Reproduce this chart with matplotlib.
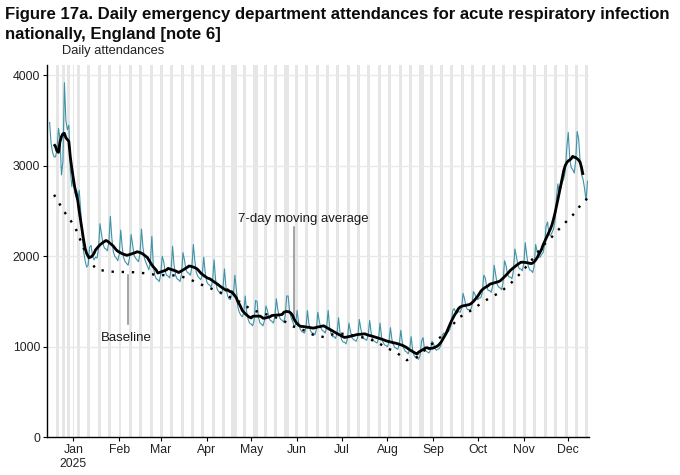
import matplotlib
matplotlib.use("Agg")
import matplotlib.pyplot as plt
import pandas as pd

plt.rcParams['font.family'] = ['Liberation Sans', 'DejaVu Sans']

# ---------------- data ----------------
start_date = "2024-12-16"   # first day of daily series (Monday)

daily_attendances = [
    3480, 3250, 3150, 3100, 3100, 3180, 3415,
    3300, 2900, 3050, 3920, 3500, 3400, 3450,
    2950, 2770, 2900, 2700, 2650, 2620, 2730,
    2500, 2220, 2050, 1950, 1880, 1900, 2100,
    2120, 2000, 1960, 1990, 1980, 2080, 2360,
    2250, 2140, 2090, 2080, 2060, 2160, 2440,
    2200, 2050, 2000, 1980, 1950, 2020, 2290,
    2100, 1980, 1940, 1920, 1900, 1990, 2240,
    2130, 2010, 1980, 1960, 1940, 2030, 2300,
    2100, 1980, 1930, 1890, 1850, 1930, 2220,
    1900, 1790, 1750, 1740, 1720, 1800, 2000,
    1940, 1830, 1790, 1780, 1760, 1850, 2110,
    1900, 1790, 1750, 1740, 1720, 1800, 2040,
    1960, 1850, 1820, 1810, 1790, 1880, 2130,
    1950, 1820, 1780, 1760, 1740, 1790, 1990,
    1820, 1720, 1690, 1680, 1660, 1730, 1960,
    1740, 1640, 1610, 1600, 1580, 1650, 1860,
    1660, 1570, 1530, 1520, 1620, 1560, 1790,
    1640, 1440, 1380, 1350, 1330, 1370, 1560,
    1380, 1300, 1260, 1250, 1230, 1290, 1510,
    1500, 1320, 1260, 1250, 1230, 1290, 1450,
    1400, 1320, 1290, 1280, 1260, 1330, 1530,
    1410, 1330, 1300, 1290, 1270, 1340, 1560,
    1560, 1380, 1320, 1280, 1230, 1240, 1400,
    1270, 1200, 1170, 1160, 1150, 1210, 1400,
    1250, 1180, 1150, 1150, 1130, 1190, 1380,
    1280, 1210, 1180, 1170, 1150, 1220, 1400,
    1210, 1140, 1110, 1110, 1090, 1150, 1320,
    1150, 1080, 1050, 1050, 1030, 1090, 1260,
    1170, 1100, 1080, 1070, 1060, 1110, 1300,
    1200, 1120, 1090, 1080, 1070, 1130, 1290,
    1150, 1080, 1060, 1050, 1040, 1090, 1260,
    1110, 1050, 1020, 1010, 1000, 1050, 1210,
    1080, 1020, 990, 980, 970, 1030, 1180,
    1050, 980, 950, 940, 920, 970, 1110,
    960, 900, 880, 870, 860, 900, 1060,
    1100, 970, 950, 940, 930, 960, 1060,
    1040, 980, 960, 970, 980, 1010, 1130,
    1150, 1120, 1140, 1170, 1190, 1240, 1400,
    1420, 1380, 1370, 1390, 1380, 1420, 1590,
    1530, 1440, 1410, 1410, 1400, 1450, 1610,
    1580, 1530, 1520, 1540, 1540, 1600, 1790,
    1760, 1660, 1620, 1620, 1600, 1670, 1900,
    1800, 1690, 1660, 1650, 1630, 1710, 1950,
    1900, 1800, 1770, 1770, 1750, 1840, 2080,
    2000, 1900, 1860, 1860, 1840, 1920, 2150,
    2010, 1890, 1850, 1840, 1820, 1890, 2130,
    2050, 1990, 1990, 2020, 2040, 2120, 2330,
    2380, 2240, 2230, 2260, 2300, 2380, 2640,
    2800, 2700, 2760, 2820, 2860, 2940, 3200,
    3370, 3080, 2980, 2960, 2920, 3050, 3380,
    3300, 3050, 2900, 2850, 2750, 2620, 2830,
]

baseline_dates = [
    "2024-12-19", "2024-12-26", "2025-01-02", "2025-01-09", "2025-01-16",
    "2025-01-23", "2025-01-30", "2025-02-06", "2025-02-13", "2025-02-20",
    "2025-02-27", "2025-03-06", "2025-03-13", "2025-03-20", "2025-03-27",
    "2025-04-03", "2025-04-10", "2025-04-17", "2025-04-24", "2025-05-01",
    "2025-05-08", "2025-05-15", "2025-05-22", "2025-05-29", "2025-06-05",
    "2025-06-12", "2025-06-19", "2025-06-26", "2025-07-03", "2025-07-10",
    "2025-07-17", "2025-07-24", "2025-07-31", "2025-08-07", "2025-08-14",
    "2025-08-21", "2025-08-28", "2025-09-04", "2025-09-11", "2025-09-18",
    "2025-09-25", "2025-10-02", "2025-10-09", "2025-10-16", "2025-10-23",
    "2025-10-30", "2025-11-06", "2025-11-13", "2025-11-20", "2025-11-27",
    "2025-12-04", "2025-12-11", "2025-12-14",
]
baseline_values = [
    2680, 2490, 2330, 2050, 1860,
    1835, 1826, 1826, 1822, 1808,
    1792, 1790, 1786, 1750, 1695,
    1650, 1600, 1545, 1490, 1410,
    1372, 1340, 1295, 1225, 1185,
    1130, 1106, 1140, 1143, 1120,
    1095, 1060, 990, 935, 850,
    884, 990, 1080, 1180, 1320,
    1385, 1465, 1540, 1600, 1697,
    1815, 1950, 2100, 2215, 2340,
    2454, 2600, 2640,
]

bank_holidays = ["2024-12-25", "2024-12-26", "2025-01-01", "2025-04-18",
                 "2025-04-21", "2025-05-05", "2025-05-26", "2025-08-25"]

month_ticks = ["2025-01-01", "2025-02-01", "2025-03-01", "2025-04-01",
               "2025-05-01", "2025-06-01", "2025-07-01", "2025-08-01",
               "2025-09-01", "2025-10-01", "2025-11-01", "2025-12-01"]
month_labels = ["Jan\n2025", "Feb", "Mar", "Apr", "May", "Jun", "Jul",
                "Aug", "Sep", "Oct", "Nov", "Dec"]
y_ticks = [0, 1000, 2000, 3000, 4000]

title = ("Figure 17a. Daily emergency department attendances for acute respiratory infection\n"
         "nationally, England [note 6]")

# ---------------- derived ----------------
dates = pd.date_range(start_date, periods=len(daily_attendances), freq="D")
series = pd.Series(daily_attendances, index=dates, dtype=float)
ma7 = series.rolling(7, center=True).mean()
bl_dates = pd.to_datetime(baseline_dates)
bh = pd.to_datetime(bank_holidays)
shade_days = [d for d in dates if d.weekday() >= 5 or d in bh]

ymax = max(daily_attendances) * 1.05

# ---------------- figure ----------------
fig = plt.figure(figsize=(6.8, 4.75), dpi=100)
ax = fig.add_axes([47/680, 1 - 437/475, (589 - 47)/680, (437 - 65)/475])

ax.bar(shade_days, [ymax] * len(shade_days), width=1.0, bottom=0,
       color="#e6e6e6", edgecolor="none", zorder=0)

for yv in y_ticks[1:]:
    ax.axhline(yv, color="#e9e9e9", lw=1.0, zorder=0.5)

ax.plot(dates, series.values, color="#3f93a8", lw=0.8, zorder=2)
ax.plot(dates, ma7.values, color="black", lw=2.0, zorder=3,
        solid_capstyle="butt")
ax.plot(bl_dates, baseline_values, color="black", lw=1.7,
        linestyle=(0, (1, 3.3)), zorder=3)

# annotations
ann_ma_x = pd.Timestamp("2025-05-30")
ax.plot([ann_ma_x, ann_ma_x], [1340, 2320], color="#8c8c8c", lw=1.1, zorder=1.5)
ax.text(pd.Timestamp("2025-06-05"), 2410, "7-day moving average",
        ha="center", va="center", fontsize=9.5, color="#1a1a1a")
ann_bl_x = pd.Timestamp("2025-02-07")
ax.plot([ann_bl_x, ann_bl_x], [1790, 1250], color="#8c8c8c", lw=1.1, zorder=1.5)
ax.text(pd.Timestamp("2025-02-06"), 1090, "Baseline",
        ha="center", va="center", fontsize=9.5, color="#1a1a1a")

ax.set_xlim(pd.Timestamp("2024-12-14 06:00"), pd.Timestamp("2025-12-15"))
ax.set_ylim(0, ymax)
ax.set_xticks(pd.to_datetime(month_ticks))
ax.set_xticklabels(month_labels)
ax.set_yticks(y_ticks)
ax.set_yticklabels([str(v) for v in y_ticks])

for side in ["top", "right"]:
    ax.spines[side].set_visible(False)
for side in ["left", "bottom"]:
    ax.spines[side].set_color("black")
    ax.spines[side].set_linewidth(1.0)
ax.tick_params(axis="both", labelsize=8.8, length=3, width=0.8,
               colors="black", labelcolor="#222222", pad=2)
ax.set_facecolor("white")

fig.text(62/680, 1 - 51/475, "Daily attendances", ha="left", va="center",
         fontsize=9.3, color="#222222")
fig.text(5/680, 1 - 14/475, title.split("\n")[0], ha="left", va="center",
         fontsize=12.1, fontweight="bold", color="#0b0c0c")
fig.text(5/680, 1 - 35/475, title.split("\n")[1], ha="left", va="center",
         fontsize=12.1, fontweight="bold", color="#0b0c0c")

fig.savefig("out.png", dpi=100)
